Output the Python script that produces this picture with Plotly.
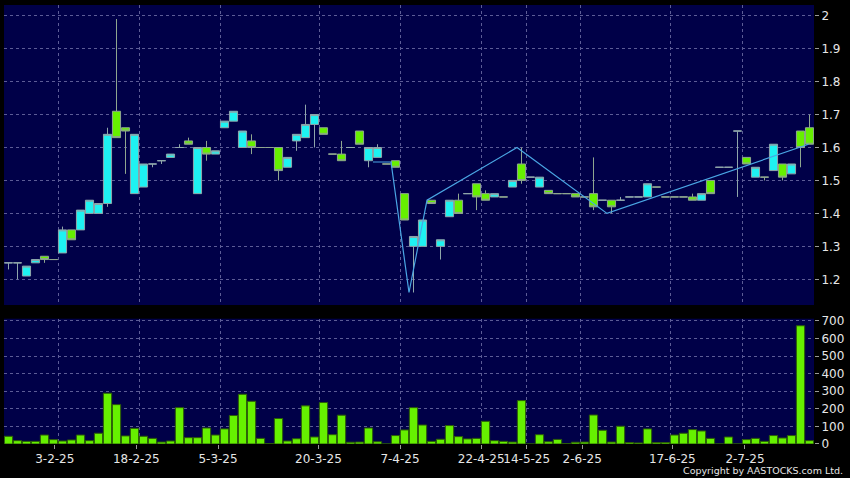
import plotly.graph_objects as go

# ---------------- data (one entry per trading session) ----------------
opens = [1.25, 1.25, 1.21, 1.25, 1.27, 1.26, 1.28, 1.35, 1.35, 1.40,
         1.40, 1.43, 1.71, 1.66, 1.46, 1.48, 1.55, 1.56, 1.57, 1.60,
         1.62, 1.46, 1.60, 1.58, 1.66, 1.68, 1.60, 1.62, 1.60, 1.60,
         1.60, 1.54, 1.62, 1.63, 1.67, 1.66, 1.58, 1.58, 1.60, 1.65,
         1.56, 1.57, 1.55, 1.56, 1.46, 1.30, 1.30, 1.44, 1.30, 1.39,
         1.44, 1.46, 1.49, 1.46, 1.45, 1.45, 1.48, 1.55, 1.51, 1.48,
         1.47, 1.46, 1.46, 1.46, 1.45, 1.46, 1.44, 1.44, 1.44, 1.45,
         1.45, 1.45, 1.48, 1.45, 1.45, 1.45, 1.45, 1.44, 1.50, 1.54,
         1.54, 1.65, 1.57, 1.51, 1.51, 1.53, 1.55, 1.52, 1.65, 1.66]
highs = [1.25, 1.25, 1.24, 1.26, 1.27, 1.26, 1.36, 1.35, 1.41, 1.44,
         1.43, 1.66, 1.99, 1.66, 1.64, 1.55, 1.55, 1.56, 1.58, 1.61,
         1.63, 1.60, 1.62, 1.59, 1.68, 1.71, 1.65, 1.64, 1.60, 1.60,
         1.60, 1.57, 1.64, 1.73, 1.70, 1.66, 1.58, 1.62, 1.60, 1.65,
         1.60, 1.61, 1.55, 1.56, 1.46, 1.33, 1.38, 1.44, 1.32, 1.44,
         1.46, 1.46, 1.49, 1.47, 1.46, 1.45, 1.50, 1.60, 1.51, 1.51,
         1.47, 1.46, 1.46, 1.46, 1.45, 1.57, 1.44, 1.44, 1.45, 1.45,
         1.45, 1.49, 1.48, 1.45, 1.45, 1.45, 1.46, 1.46, 1.50, 1.54,
         1.54, 1.65, 1.57, 1.54, 1.51, 1.61, 1.55, 1.55, 1.65, 1.70]
lows = [1.23, 1.20, 1.21, 1.25, 1.25, 1.26, 1.28, 1.32, 1.35, 1.40,
        1.40, 1.42, 1.63, 1.52, 1.46, 1.48, 1.54, 1.55, 1.57, 1.60,
        1.61, 1.46, 1.56, 1.58, 1.66, 1.68, 1.60, 1.58, 1.60, 1.60,
        1.50, 1.54, 1.59, 1.63, 1.60, 1.64, 1.58, 1.56, 1.60, 1.61,
        1.54, 1.57, 1.55, 1.54, 1.38, 1.16, 1.30, 1.43, 1.26, 1.39,
        1.40, 1.46, 1.41, 1.44, 1.45, 1.45, 1.48, 1.49, 1.51, 1.48,
        1.46, 1.46, 1.46, 1.45, 1.45, 1.41, 1.44, 1.40, 1.44, 1.45,
        1.45, 1.45, 1.48, 1.45, 1.45, 1.45, 1.44, 1.44, 1.46, 1.54,
        1.54, 1.45, 1.55, 1.51, 1.50, 1.53, 1.50, 1.52, 1.54, 1.61]
closes = [1.25, 1.25, 1.24, 1.26, 1.26, 1.26, 1.35, 1.32, 1.41, 1.44,
          1.43, 1.64, 1.63, 1.65, 1.64, 1.55, 1.55, 1.56, 1.58, 1.60,
          1.61, 1.60, 1.58, 1.59, 1.68, 1.71, 1.65, 1.60, 1.60, 1.60,
          1.53, 1.57, 1.64, 1.67, 1.70, 1.64, 1.58, 1.56, 1.60, 1.61,
          1.60, 1.60, 1.55, 1.54, 1.38, 1.33, 1.38, 1.43, 1.32, 1.44,
          1.40, 1.46, 1.45, 1.44, 1.46, 1.45, 1.50, 1.50, 1.51, 1.51,
          1.46, 1.46, 1.46, 1.45, 1.45, 1.42, 1.44, 1.42, 1.44, 1.45,
          1.45, 1.49, 1.48, 1.45, 1.45, 1.45, 1.44, 1.46, 1.46, 1.54,
          1.54, 1.65, 1.55, 1.54, 1.51, 1.61, 1.51, 1.55, 1.60, 1.61]
volumes = [44, 19, 15, 15, 51, 25, 17, 23, 51, 19,
           61, 289, 224, 46, 89, 44, 32, 11, 17, 207,
           36, 36, 91, 51, 86, 162, 283, 243, 32, 2,
           145, 17, 30, 217, 40, 236, 53, 164, 10, 11,
           91, 13, 0, 48, 80, 207, 108, 15, 27, 105,
           42, 29, 32, 129, 19, 15, 11, 247, 0, 53,
           13, 26, 2, 10, 11, 165, 78, 11, 101, 8,
           6, 86, 8, 8, 51, 61, 82, 74, 32, 0,
           40, 0, 25, 32, 15, 48, 34, 48, 673, 19]
sessions = list(range(len(closes)))

# zig-zag trend line (session position, price)
zigzag_x = [40.5, 42.5, 44.5, 46.5, 56.5, 66.5, 88.9]
zigzag_y = [1.556, 1.556, 1.16, 1.44, 1.60, 1.40, 1.61]

# date labels on the session axis
date_labels = ["3-2-25", "18-2-25", "5-3-25", "20-3-25", "7-4-25",
               "22-4-25", "14-5-25", "2-6-25", "17-6-25", "2-7-25"]
date_label_pos = [5.14, 14.2, 23.28, 34.44, 43.5, 52.52, 57.58, 63.74, 73.76, 81.83]
grid_pos = [5.5, 14.5, 23.5, 34.5, 43.5, 52.5, 57.5, 63.5, 73.5, 81.5]

# ---------------- styling ----------------
PLOT_BG = "#000048"
GRID = "#5c5c96"
TXT = "#e6e6e6"
TICKC = "#9a9a9a"
FONT = "DejaVu Sans"

fig = go.Figure()
fig.add_trace(go.Candlestick(
    x=sessions, open=opens, high=highs, low=lows, close=closes,
    increasing=dict(fillcolor="#1ef2f2", line=dict(color="#8fa6aa", width=1)),
    decreasing=dict(fillcolor="#66f000", line=dict(color="#8fa68f", width=1)),
    whiskerwidth=0, xaxis="x", yaxis="y", showlegend=False, hoverinfo="skip"))
fig.add_trace(go.Scatter(
    x=zigzag_x, y=zigzag_y, mode="lines",
    line=dict(color="#4aa6e4", width=1.2),
    xaxis="x", yaxis="y", showlegend=False, hoverinfo="skip"))
fig.add_trace(go.Bar(
    x=sessions, y=volumes,
    marker=dict(color="#66f000", line=dict(color="#2c5c08", width=1)),
    xaxis="x2", yaxis="y2", showlegend=False, hoverinfo="skip"))

minor_grid = dict(tickmode="array", tickvals=grid_pos, showgrid=True,
                  gridcolor=GRID, griddash="3px,3px", gridwidth=1, ticks="")

fig.update_layout(
    width=850, height=478,
    paper_bgcolor="#000000", plot_bgcolor=PLOT_BG,
    margin=dict(l=4, r=36, t=5, b=34, autoexpand=False),
    bargap=0.08, boxgap=0.1, boxgroupgap=0,
    hovermode=False,
    font=dict(family=FONT, color=TXT, size=12),
    xaxis=dict(domain=[0, 1], anchor="y", range=[-0.5, 89.5], automargin=False,
               showticklabels=False, ticks="", showgrid=False, zeroline=False,
               rangeslider=dict(visible=False), minor=minor_grid, showline=False),
    yaxis=dict(domain=[0.3166, 1], anchor="x", range=[1.122, 2.0325], side="right",
               automargin=False,
               tick0=1.2, dtick=0.1, showgrid=True, gridcolor=GRID, griddash="3px,3px",
               gridwidth=1, zeroline=False, ticks="outside", ticklen=4, tickcolor=TICKC,
               tickfont=dict(size=12, color=TXT, family=FONT)),
    xaxis2=dict(domain=[0, 1], anchor="y2", range=[-0.5, 89.5], automargin=False,
                tickmode="array", tickvals=date_label_pos, ticktext=date_labels,
                tickangle=0,
                ticks="outside", ticklen=4, tickcolor=TICKC, showgrid=False,
                zeroline=False, minor=minor_grid, showline=False,
                tickfont=dict(size=12, color=TXT, family=FONT)),
    yaxis2=dict(domain=[0, 0.2854], anchor="x2", range=[0, 713], side="right",
                automargin=False,
                dtick=100, showgrid=True, gridcolor=GRID, griddash="3px,3px",
                gridwidth=1, zeroline=False, ticks="outside", ticklen=4, tickcolor=TICKC,
                tickfont=dict(size=12, color=TXT, family=FONT)),
    annotations=[dict(text="Copyright by AASTOCKS.com Ltd.", xref="paper", yref="paper",
                      x=1.0383, y=-0.0615, xanchor="right", yanchor="middle",
                      showarrow=False, font=dict(size=9.5, color=TXT, family=FONT))],
)

fig.write_html(
    "out.html",
    config={"displayModeBar": False, "staticPlot": True},
    post_script="document.body.style.margin='0';document.body.style.background='#000';",
)
